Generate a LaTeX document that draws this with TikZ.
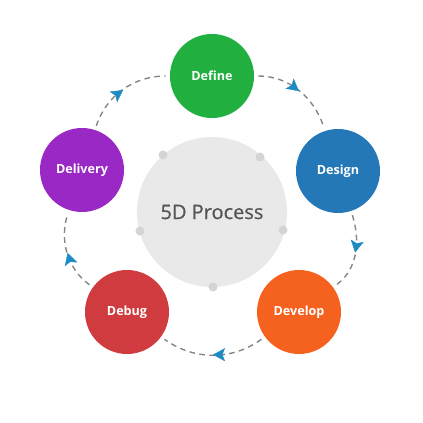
\documentclass[tikz,border=0pt]{standalone}
\usepackage{fontspec}
\setmainfont{Open Sans}
\usetikzlibrary{arrows.meta,decorations.markings}

\definecolor{definegreen}{HTML}{21B03F}
\definecolor{designblue}{HTML}{2478B8}
\definecolor{developorange}{HTML}{F5621F}
\definecolor{debugred}{HTML}{D03B3F}
\definecolor{deliverypurple}{HTML}{9A28C4}
\definecolor{hubgray}{HTML}{E9E9E9}
\definecolor{dotgray}{HTML}{D4D4D4}
\definecolor{linegray}{HTML}{858585}
\definecolor{tipblue}{HTML}{1E8BC3}
\definecolor{hubtext}{HTML}{555555}

\begin{document}
\begin{tikzpicture}[x=0.5pt, y=0.5pt,
    stage/.style={circle, minimum size=42pt, inner sep=0pt, text=white,
                  font=\bfseries\fontsize{6.3}{7}\selectfont},
    hub/.style={circle, fill=hubgray, minimum size=75pt, inner sep=0pt,
                text=hubtext, font=\fontsize{10}{12}\selectfont},
    knob/.style={circle, fill=dotgray, minimum size=4.5pt, inner sep=0pt},
    flow/.style={draw=linegray, line width=0.7pt, dash pattern=on 2.8pt off 2.2pt,
                 shorten <=2pt, shorten >=2pt,
                 postaction={decorate},
                 decoration={markings, mark=at position 0.5 with
                   {\arrow[fill=tipblue, draw=tipblue, line width=0.2pt]{Stealth[length=6pt, width=6.5pt, inset=1.3pt]}}}}]

     \useasboundingbox (-212, -211) rectangle (211, 212);

     \node (hub) at (0, 0) [hub] {\addfontfeatures{FakeBold=0.6}5D Process};

     \node (k1) at (-49, 57) [knob] {};
     \node (k2) at (48, 55) [knob] {};
     \node (k3) at (71, -18) [knob] {};
     \node (k4) at (1, -75) [knob] {};
     \node (k5) at (-72, -19) [knob] {};

     \node (define)   at (0, 136)   [stage, fill=definegreen]    {Define};
     \node (design)   at (126, 41)  [stage, fill=designblue]     {Design};
     \node (develop)  at (87, -100) [stage, fill=developorange]  {Develop};
     \node (debug)    at (-85, -100)[stage, fill=debugred]       {Debug};
     \node (delivery) at (-130, 42) [stage, fill=deliverypurple] {Delivery};

     \draw [flow] (define)   to [out=0, in=108]    (design);
     \draw [flow] (design)   to [out=-72, in=36]   (develop);
     \draw [flow] (develop)  to [out=-144, in=-36] (debug);
     \draw [flow] (debug)    to [out=144, in=-108] (delivery);
     \draw [flow] (delivery) to [out=72, in=180]   (define);

 \end{tikzpicture}
\end{document}
